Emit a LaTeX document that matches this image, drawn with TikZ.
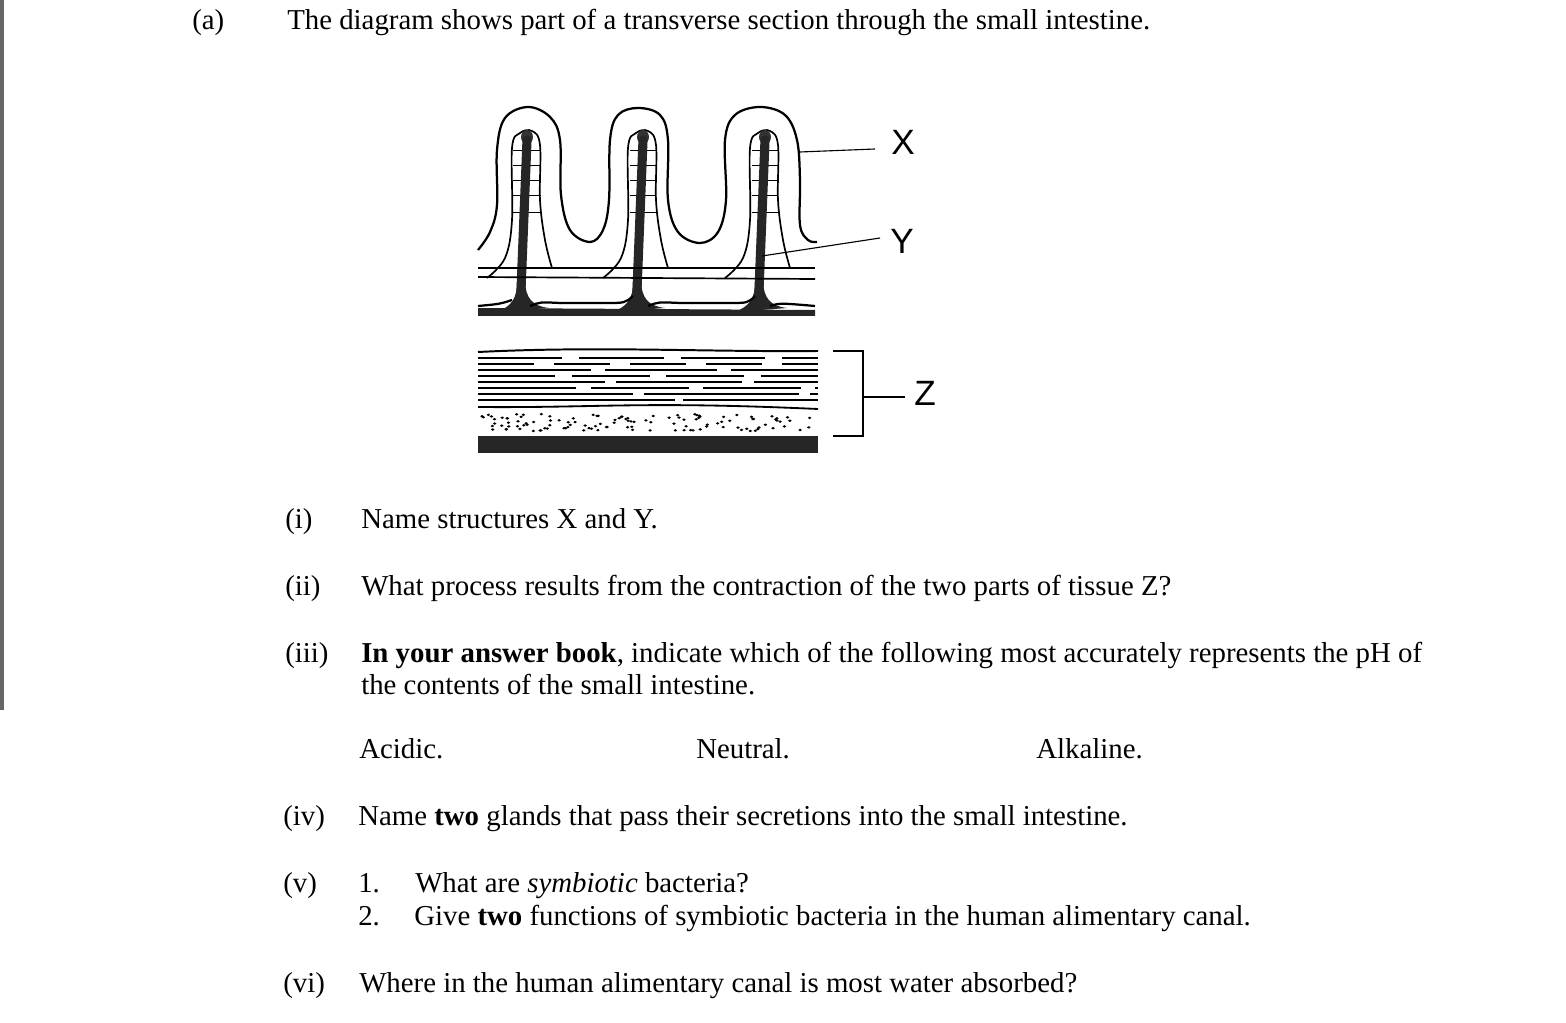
\documentclass[tikz,border=0pt]{standalone}
\usepackage{fontspec}
\setmainfont{Liberation Serif}
\newfontfamily\lblfont{Liberation Sans}
\usetikzlibrary{positioning}

\tikzset{
  txt/.style={anchor=base west, inner sep=0pt, font=\fontsize{20.5}{24}\selectfont},
  lbl/.style={inner sep=0pt, font=\lblfont\fontsize{25}{28}\selectfont},
  outline/.style={line width=1.6pt, line join=round},
  core/.style={line width=6.5pt, color=black!85, line cap=round},
  grid line/.style={line width=0.6pt},
  pointer/.style={line width=0.8pt}
}

\begin{document}
\begin{tikzpicture}[x=0.025cm, y=-0.025cm]
  \useasboundingbox (0,0) rectangle (1566,1023);
  \fill[black!60] (0,0) rectangle (4,710);

  % villi outline
  \draw[outline] plot[smooth, tension=0.6] coordinates {
    (478,250) (490,232) (497,205) (497,150) (505,118) (528,107) (550,117)
    (560,140) (561,195) (570,230) (590,242) (603,230) (609,200) (610,140)
    (618,115) (638,108) (660,115) (668,140) (668,200) (678,232) (700,243)
    (718,232) (726,200) (725,140) (735,115) (760,107) (785,115) (797,140)
    (800,180) (800,225) (808,240) (817,242)};

  % cores, lacteals and grid of capillaries
  \foreach \x/\w in {527/14, 643/13, 765/13} {
    \draw[line width=1.2pt] plot[smooth, tension=0.6] coordinates {
      (\x-40,278) (\x-22,258) (\x-15,220) (\x-15,148) (\x-7,133) (\x+5,131)
      (\x+13,145) (\x+13,200) (\x+18,240) (\x+25,268)};
    \foreach \y in {150,165,180,195,212} {
      \draw[grid line] (\x-\w,\y) -- (\x+\w,\y);
    }
    \fill[black!80] (\x,137) ellipse (6 and 7);
    \draw[core] (\x,140) -- (\x-6,290);
    \fill[black!85] (\x-30,312) .. controls (\x-15,306) and (\x-10,298) .. (\x-10,282)
      -- (\x-2,282) .. controls (\x-1,298) and (\x+5,306) .. (\x+22,308) -- cycle;
  }
  \draw[line width=1.6pt] (530,306) .. controls (540,302) .. (560,303) -- (605,303) .. controls (625,303) .. (633,296);
  \draw[line width=1.6pt] (648,306) .. controls (658,302) .. (680,303) -- (728,303) .. controls (748,303) .. (755,296);
  \draw[line width=1.6pt] (770,306) .. controls (780,303) .. (815,306);
  \draw[line width=1.6pt] (512,300) .. controls (500,304) .. (478,306);
  \draw[line width=1.2pt] (478,268) -- (815,268);
  \draw[line width=1.2pt] (478,277) -- (815,279);
  \fill[black!85] (478,308) -- (815,310) -- (815,316) -- (478,316) -- cycle;

  % muscle layers
  \draw[line width=1.4pt] (478,352) .. controls (600,346) and (700,352) .. (818,351);
  \foreach \y/\on/\off in {358/60/12, 364/40/14, 370/80/10, 376/55/12,
                           382/90/8, 388/70/10, 394/110/8, 400/140/6} {
    \draw[line width=0.9pt, dash pattern=on \on pt off \off pt] (478,\y) -- (818,\y);
  }
  \draw[line width=1.3pt] (478,407) .. controls (600,408) and (640,401) .. (818,409);
  \pgfmathsetseed{7}
  \foreach \i in {1,...,120} {
    \pgfmathsetmacro{\px}{482+332*rnd}
    \pgfmathsetmacro{\py}{414+17*rnd}
    \fill (\px,\py) ellipse (1.8 and 1.3);
  }
  \fill[black!85] (478,436) rectangle (818,453);

  % labels
  \node[lbl] (labelX) at (903,142) {X};
  \node[lbl] (labelY) at (902,241) {Y};
  \node[lbl] (labelZ) at (925,393) {Z};
  \coordinate (tipX) at (800,152);
  \coordinate (tipY) at (762,256);
  \draw[pointer] (tipX) -- (875,149);
  \draw[pointer] (tipY) -- (880,238);
  \draw[pointer] (833,351) -- (863,351) -- (863,436) -- (833,436);
  \draw[pointer] (863,397) -- (905,397);

  % text
  \node[txt] (partA) at (192,30) {(a)};
  \node[txt] (intro) at (287,30) {The diagram shows part of a transverse section through the small intestine.};
  \node[txt] (qi) at (285,528) {(i)};
  \node[txt] (ti) at (361,528) {Name structures X and Y.};
  \node[txt] (qii) at (285,595) {(ii)};
  \node[txt] (tii) at (361,595) {What process results from the contraction of the two parts of tissue Z?};
  \node[txt] (qiii) at (285,662) {(iii)};
  \node[txt] (tiii) at (361,662) {\textbf{In your answer book}, indicate which of the following most accurately represents the pH of};
  \node[txt] (tiiib) at (361,694) {the contents of the small intestine.};
  \node[txt] (acid) at (359,758) {Acidic.};
  \node[txt] (neut) at (696,758) {Neutral.};
  \node[txt] (alk) at (1036,758) {Alkaline.};
  \node[txt] (qiv) at (283,825) {(iv)};
  \node[txt] (tiv) at (358,825) {Name \textbf{two} glands that pass their secretions into the small intestine.};
  \node[txt] (qv) at (283,892) {(v)};
  \node[txt] (n1) at (358,892) {1.};
  \node[txt] (tv1) at (415,892) {What are \textit{symbiotic} bacteria?};
  \node[txt] (n2) at (358,925) {2.};
  \node[txt] (tv2) at (414,925) {Give \textbf{two} functions of symbiotic bacteria in the human alimentary canal.};
  \node[txt] (qvi) at (283,992) {(vi)};
  \node[txt] (tvi) at (359,992) {Where in the human alimentary canal is most water absorbed?};
\end{tikzpicture}
\end{document}
